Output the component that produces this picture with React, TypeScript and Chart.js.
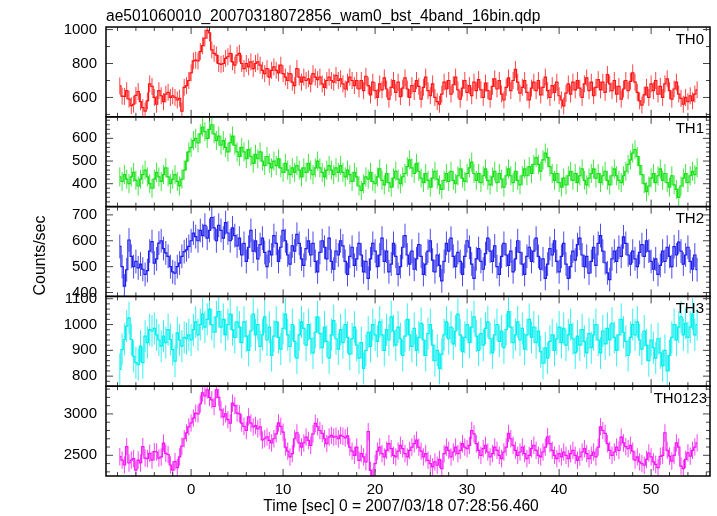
import React, { useEffect, useRef } from "react";
import { Chart, registerables } from "chart.js";

Chart.register(...registerables);
Chart.defaults.font.family = "'Liberation Sans', Arial, Helvetica, sans-serif";
Chart.defaults.color = "#000";

// ---------- text ----------
const TITLE = "ae501060010_20070318072856_wam0_bst_4band_16bin.qdp";
const X_LABEL = "Time [sec] 0 = 2007/03/18 07:28:56.460";
const Y_LABEL = "Counts/sec";
const PANEL_NAMES = ["TH0", "TH1", "TH2", "TH3", "TH0123"];

// ---------- time bins ----------
const T_START = -7.75; // centre of first bin [sec]
const BIN = 0.25; // bin width [sec]
const X_TICKS = [0, 10, 20, 30, 40, 50];

// ---------- tick labels ----------
const Y_TICKS_TH0 = [600, 800, 1000];
const Y_TICKS_TH1 = [400, 500, 600];
const Y_TICKS_TH2 = [400, 500, 600, 700];
const Y_TICKS_TH3 = [800, 900, 1000, 1100];
const Y_TICKS_TH0123 = [2500, 3000];

// ---------- typical 1-sigma error per band (counts/sec) ----------
const ERR_TH0 = 50;
const ERR_TH1 = 42;
const ERR_TH2 = 46;
const ERR_TH3 = 62;
const ERR_TH0123 = 105;

// ---------- light curves (counts/sec) ----------
const TH0 = [
  668, 608, 606, 640, 590, 552, 560, 612,
  635, 575, 540, 520, 580, 680, 665, 600,
  560, 640, 610, 575, 620, 630, 600, 610,
  600, 585, 595, 520, 660, 670, 700, 745,
  815, 820, 815, 870, 905, 950, 995, 980,
  880, 860, 850, 800, 795, 800, 830, 840,
  860, 810, 790, 850, 860, 800, 770, 800,
  780, 810, 770, 800, 810, 790, 760, 740,
  770, 720, 760, 780, 760, 745, 790, 740,
  720, 700, 740, 690, 670, 770, 720, 690,
  720, 700, 710, 680, 740, 720, 705, 720,
  680, 660, 700, 720, 700, 690, 730, 700,
  710, 680, 650, 690, 720, 700, 670, 700,
  650, 700, 640, 725, 670, 615, 690, 640,
  600, 680, 645, 715, 650, 590, 660, 700,
  630, 690, 605, 655, 715, 650, 600, 670,
  635, 700, 665, 590, 660, 720, 640, 610,
  680, 600, 575, 560, 620, 690, 650, 700,
  620, 675, 720, 645, 590, 655, 700, 630,
  670, 610, 690, 640, 705, 645, 600, 685,
  640, 590, 665, 710, 650, 700, 620, 585,
  660, 715, 640, 700, 765, 690, 625, 660,
  700, 630, 585, 655, 690, 640, 700, 615,
  660, 720, 640, 600, 670, 630, 690, 610,
  585, 550, 625, 680, 620, 690, 645, 700,
  655, 600, 680, 715, 640, 690, 610, 660,
  705, 645, 690, 630, 735, 680, 640, 700,
  620, 665, 590, 650, 700, 640, 695, 745,
  690, 630, 580, 555, 615, 660, 600, 680,
  640, 700, 620, 665, 600, 680, 710, 640,
  590, 650, 690, 620, 595, 560, 600, 575,
  610, 580, 620, 645,
];

const TH1 = [
  430, 410, 440, 420, 400, 430, 450, 415,
  390, 420, 440, 460, 430, 400, 380, 420,
  450, 430, 410, 440, 470, 430, 400, 420,
  440, 410, 390, 420, 460, 500, 540, 560,
  590, 600, 580, 620, 650, 630, 600, 640,
  660, 620, 590, 610, 570, 590, 560, 540,
  580, 610, 570, 540, 520, 560, 540, 510,
  550, 520, 490, 530, 510, 540, 500, 480,
  520, 490, 470, 500, 480, 510, 470, 450,
  490, 460, 440, 470, 450, 480, 460, 430,
  470, 450, 490, 460, 440, 470, 500, 470,
  450, 430, 460, 480, 460, 440, 470, 450,
  480, 450, 430, 460, 440, 410, 450, 430,
  390, 370, 400, 430, 420, 450, 410, 400,
  430, 465, 415, 395, 445, 405, 385, 425,
  455, 420, 400, 430, 445, 475, 505, 470,
  445, 490, 455, 425, 405, 445, 415, 385,
  425, 455, 420, 395, 375, 415, 445, 410,
  455, 415, 400, 435, 465, 425, 410, 445,
  470, 495, 445, 415, 445, 405, 435, 465,
  415, 395, 430, 455, 405, 445, 420, 385,
  435, 465, 435, 405, 455, 415, 395, 435,
  465, 435, 475, 445, 485, 515, 485, 455,
  505, 535, 515, 475, 445, 415, 445, 405,
  385, 425, 395, 435, 455, 415, 445, 405,
  435, 465, 415, 395, 425, 445, 465, 425,
  445, 405, 435, 455, 415, 395, 435, 465,
  435, 415, 405, 435, 455, 485, 505, 535,
  550, 520, 480, 440, 400, 365, 390, 425,
  445, 405, 435, 465, 415, 445, 405, 385,
  435, 395, 375, 340, 390, 425, 445, 405,
  435, 455, 440, 470,
];

const TH2 = [
  578, 500, 425, 488, 603, 540, 500, 520,
  495, 510, 490, 470, 485, 560, 597, 514,
  530, 591, 600, 570, 553, 540, 500, 480,
  475, 500, 514, 540, 558, 565, 578, 600,
  630, 616, 600, 640, 620, 660, 610, 640,
  690, 650, 600, 660, 640, 610, 670, 630,
  600, 650, 620, 580, 610, 545, 590, 520,
  575, 640, 560, 600, 530, 585, 610, 555,
  500, 560, 545, 620, 590, 520, 575, 640,
  600, 545, 510, 580, 560, 625, 590, 530,
  505, 570, 600, 545, 590, 520, 480, 555,
  600, 575, 530, 610, 520, 490, 560, 545,
  600, 580, 520, 470, 540, 575, 505, 530,
  590, 545, 480, 520, 455, 530, 590, 560,
  500, 545, 610, 520, 560, 480, 510, 590,
  540, 470, 500, 575, 620, 545, 510, 560,
  490, 530, 585, 540, 470, 510, 560, 600,
  525, 480, 545, 505, 445, 520, 590, 560,
  610, 540, 500, 555, 520, 470, 540, 600,
  575, 510, 455, 530, 570, 520, 490, 550,
  610, 560, 520, 580, 500, 470, 540, 590,
  545, 505, 560, 480, 530, 600, 555, 510,
  470, 540, 575, 520, 560, 610, 540, 490,
  530, 455, 510, 570, 545, 600, 520, 480,
  540, 590, 510, 455, 500, 560, 525, 585,
  610, 545, 500, 540, 475, 520, 575, 505,
  590, 620, 560, 515, 476, 450, 530, 560,
  520, 575, 540, 615, 590, 545, 510, 560,
  530, 500, 555, 585, 540, 600, 560, 520,
  490, 530, 470, 505, 560, 520, 575, 540,
  500, 577, 545, 595, 560, 510, 545, 575,
  520, 490, 545, 488,
];

const TH3 = [
  826, 903, 942, 994, 1026, 942, 877, 852,
  845, 916, 852, 955, 930, 980, 975, 985,
  960, 940, 916, 955, 930, 980, 942, 903,
  858, 968, 940, 916, 950, 945, 960, 940,
  980, 1010, 960, 1000, 1040, 990, 1020, 1060,
  1000, 970, 1030, 1050, 990, 1020, 960, 1000,
  1040, 980, 950, 1010, 990, 930, 1010, 955,
  900, 975, 1040, 960, 1000, 915, 960, 1030,
  940, 990, 880, 955, 1010, 950, 905, 985,
  1040, 960, 915, 1000, 935, 870, 960, 1010,
  985, 920, 1000, 945, 890, 970, 1030, 965,
  910, 990, 935, 870, 960, 1015, 945, 905,
  980, 930, 1000, 950, 885, 945, 990, 920,
  870, 930, 830, 900, 970, 915, 1000, 960,
  935, 1010, 960, 900, 980, 940, 1030, 975,
  920, 990, 945, 880, 955, 1020, 960, 915,
  985, 900, 950, 1005, 940, 880, 965, 1000,
  920, 860, 900, 830, 885, 960, 1010, 945,
  990, 925, 975, 1040, 960, 895, 950, 1000,
  930, 990, 1030, 955, 900, 965, 920, 985,
  1010, 945, 890, 960, 1000, 935, 975, 910,
  980, 1050, 990, 930, 960, 1010, 940, 985,
  905, 960, 1020, 950, 990, 930, 975, 895,
  850, 910, 870, 935, 960, 900, 945, 990,
  930, 985, 920, 960, 1000, 945, 890, 955,
  920, 980, 935, 890, 965, 910, 960, 1000,
  940, 890, 975, 925, 985, 940, 1005, 950,
  900, 960, 1020, 970, 935, 880, 950, 1000,
  960, 1010, 940, 905, 975, 920, 860, 940,
  910, 870, 945, 890, 840, 900, 820, 880,
  950, 1000, 940, 990, 1030, 960, 1005, 950,
  990, 1040, 960, 1000,
];

const TH0123 = [
  2483, 2443, 2383, 2605, 2407, 2443, 2460, 2322,
  2443, 2407, 2605, 2467, 2460, 2524, 2443, 2544,
  2540, 2467, 2480, 2649, 2524, 2510, 2383, 2322,
  2423, 2350, 2480, 2610, 2700, 2770, 2843, 2891,
  2950, 3010, 3000, 3120, 3254, 3218, 3290, 3200,
  3170, 3090, 3290, 3200, 3050, 2965, 3000, 2930,
  2890, 3130, 3100, 3010, 3000, 2890, 2850, 2800,
  2965, 2890, 2843, 2860, 2820, 2843, 2685, 2700,
  2722, 2680, 2649, 2700, 2760, 2891, 2850, 2780,
  2600, 2550, 2480, 2520, 2700, 2770, 2650, 2600,
  2650, 2720, 2680, 2620, 2760, 2886, 2845, 2800,
  2764, 2700, 2642, 2720, 2740, 2720, 2730, 2700,
  2740, 2730, 2710, 2735, 2600, 2550, 2500, 2600,
  2440, 2520, 2480, 2420, 2785, 2317, 2236, 2400,
  2550, 2600, 2520, 2480, 2560, 2640, 2580, 2500,
  2480, 2550, 2620, 2580, 2520, 2480, 2560, 2600,
  2640, 2683, 2600, 2550, 2480, 2520, 2440, 2400,
  2360, 2420, 2380, 2450, 2340, 2520, 2600, 2560,
  2480, 2540, 2600, 2520, 2560, 2640, 2600, 2580,
  2620, 2800, 2760, 2640, 2560, 2500, 2580, 2620,
  2540, 2480, 2520, 2600, 2560, 2500, 2460, 2540,
  2600, 2764, 2700, 2620, 2560, 2500, 2540, 2600,
  2520, 2460, 2500, 2580, 2620, 2560, 2500, 2480,
  2540, 2600, 2724, 2640, 2560, 2500, 2460, 2520,
  2480, 2540, 2500, 2460, 2520, 2560, 2500, 2440,
  2480, 2540, 2580, 2520, 2460, 2500, 2540, 2480,
  2600, 2845, 2800, 2764, 2640, 2560, 2500, 2540,
  2600, 2560, 2720, 2650, 2604, 2580, 2620, 2550,
  2443, 2480, 2420, 2400, 2380, 2450, 2528, 2480,
  2420, 2390, 2350, 2487, 2500, 2770, 2560, 2490,
  2430, 2500, 2650, 2600, 2370, 2340, 2450, 2530,
  2490, 2560, 2600, 2650,
];

// ---------- panel table (built from the arrays above) ----------
const PANELS = [
  { id: "y0", name: PANEL_NAMES[0], values: TH0, err: ERR_TH0, ticks: Y_TICKS_TH0, min: 486, max: 1015, minor: 100, color: "rgb(255,20,20)" },
  { id: "y1", name: PANEL_NAMES[1], values: TH1, err: ERR_TH1, ticks: Y_TICKS_TH1, min: 299, max: 695, minor: 20, color: "rgb(20,225,20)" },
  { id: "y2", name: PANEL_NAMES[2], values: TH2, err: ERR_TH2, ticks: Y_TICKS_TH2, min: 385, max: 732, minor: 20, color: "rgb(30,30,235)" },
  { id: "y3", name: PANEL_NAMES[3], values: TH3, err: ERR_TH3, ticks: Y_TICKS_TH3, min: 761, max: 1109, minor: 20, color: "rgb(0,238,238)" },
  { id: "y4", name: PANEL_NAMES[4], values: TH0123, err: ERR_TH0123, ticks: Y_TICKS_TH0123, min: 2250, max: 3335, minor: 100, color: "rgb(245,20,245)" },
];

const X_MIN = -9.25;
const X_MAX = 56.4;
const X_MINOR = 2;
const FONT_SIZE = 15;
const LABEL_FONT_SIZE = 15.6;
const FONT_FAMILY = "'Liberation Sans', Arial, sans-serif";
const AXIS_WIDTH = 106;
const XAXIS_HEIGHT = 40;

const qdpPlugin = {
  id: "qdpPanels",
  beforeDatasetDraw(chart: any, args: any) {
    const ds = chart.data.datasets[args.index];
    const ys = chart.scales[ds.yAxisID];
    const xs = chart.scales.x;
    const { ctx, chartArea } = chart;
    ctx.save();
    ctx.beginPath();
    ctx.rect(chartArea.left, ys.top, chartArea.right - chartArea.left, ys.bottom - ys.top);
    ctx.clip();
    ctx.strokeStyle = ds.borderColor;
    ctx.globalAlpha = 0.8;
    ctx.lineWidth = 1;
    ctx.beginPath();
    for (const p of ds.data) {
      const x = xs.getPixelForValue(p.x);
      ctx.moveTo(x, ys.getPixelForValue(p.y + ds.errorBar));
      ctx.lineTo(x, ys.getPixelForValue(p.y - ds.errorBar));
    }
    ctx.stroke();
    ctx.globalAlpha = 1;
  },
  afterDatasetDraw(chart: any) {
    chart.ctx.restore();
  },
  afterDraw(chart: any) {
    const { ctx, chartArea } = chart;
    const xs = chart.scales.x;
    const L = chartArea.left;
    const R = chartArea.right;
    for (const panel of PANELS) {
      const ys = chart.scales[panel.id];
      const T = ys.top;
      const B = ys.bottom;
      ctx.save();
      ctx.strokeStyle = "#444";
      ctx.lineWidth = 1;
      ctx.beginPath();
      for (let v = Math.ceil(ys.min / panel.minor) * panel.minor; v <= ys.max; v += panel.minor) {
        const y = ys.getPixelForValue(v);
        const len = panel.ticks.includes(v) ? 7 : 4;
        ctx.moveTo(L, y);
        ctx.lineTo(L + len, y);
        ctx.moveTo(R, y);
        ctx.lineTo(R - len, y);
      }
      for (let v = Math.ceil(xs.min / X_MINOR) * X_MINOR; v <= xs.max; v += X_MINOR) {
        const x = xs.getPixelForValue(v);
        const len = X_TICKS.includes(v) ? 7 : 4;
        ctx.moveTo(x, T);
        ctx.lineTo(x, T + len);
        ctx.moveTo(x, B);
        ctx.lineTo(x, B - len);
      }
      ctx.stroke();
      ctx.strokeStyle = "#000";
      ctx.lineWidth = 1.5;
      ctx.strokeRect(L, T, R - L, B - T);
      ctx.fillStyle = "#000";
      ctx.font = `${FONT_SIZE}px ${FONT_FAMILY}`;
      ctx.textAlign = "right";
      ctx.textBaseline = "alphabetic";
      ctx.fillText(panel.name, R - (panel.name.length > 3 ? 3 : 6), T + 16.5);
      ctx.restore();
    }
    // axis labels
    ctx.save();
    ctx.fillStyle = "#000";
    ctx.font = `${LABEL_FONT_SIZE}px ${FONT_FAMILY}`;
    ctx.textAlign = "center";
    ctx.textBaseline = "middle";
    ctx.fillText(X_LABEL, (L + R) / 2 - 7, xs.bottom - 9);
    ctx.translate(41, (chartArea.top + chartArea.bottom) / 2 + 4);
    ctx.rotate(-Math.PI / 2);
    ctx.font = `16px ${FONT_FAMILY}`;
    ctx.fillText(Y_LABEL, 0, 0);
    ctx.restore();
  },
};

function buildConfig(): any {
  const scales: any = {
    x: {
      type: "linear",
      position: "bottom",
      min: X_MIN,
      max: X_MAX,
      grid: { display: false, drawTicks: false },
      border: { display: false },
      ticks: {
        color: "#000",
        font: { size: FONT_SIZE },
        padding: 5,
        maxRotation: 0,
        autoSkip: false,
        callback: (v: any) => String(v),
      },
      afterBuildTicks: (s: any) => {
        s.ticks = X_TICKS.map((v) => ({ value: v }));
      },
      afterFit: (s: any) => {
        s.height = XAXIS_HEIGHT;
      },
      title: { display: false },
    },
  };
  PANELS.forEach((p, i) => {
    scales[p.id] = {
      type: "linear",
      position: "left",
      stack: "panels",
      stackWeight: 1,
      weight: PANELS.length - i,
      min: p.min,
      max: p.max,
      grid: { display: false, drawTicks: false },
      border: { display: false },
      ticks: {
        color: "#000",
        font: { size: FONT_SIZE },
        padding: 9,
        autoSkip: false,
        callback: (v: any) => String(v),
      },
      afterBuildTicks: (s: any) => {
        s.ticks = p.ticks.map((v) => ({ value: v }));
      },
      afterFit: (s: any) => {
        s.width = AXIS_WIDTH;
      },
      title: { display: false },
    };
  });

  const datasets = PANELS.map((p) => ({
    label: p.name,
    yAxisID: p.id,
    xAxisID: "x",
    data: p.values.map((y, i) => ({ x: T_START + i * BIN, y })),
    borderColor: p.color,
    backgroundColor: p.color,
    borderWidth: 1.2,
    pointRadius: 0,
    stepped: "middle",
    fill: false,
    errorBar: p.err,
  }));

  return {
    type: "line",
    data: { datasets },
    options: {
      animation: false,
      responsive: false,
      events: [],
      layout: { padding: { left: 0, right: 7, top: 0, bottom: 0 } },
      scales,
      plugins: {
        legend: { display: false },
        tooltip: { enabled: false },
        title: {
          display: true,
          text: TITLE,
          align: "start",
          fullSize: false,
          color: "#000",
          font: { size: LABEL_FONT_SIZE, weight: "normal" },
          padding: { top: 7, bottom: 1.3 },
        },
      },
    },
    plugins: [qdpPlugin],
  };
}

export default function App() {
  const ref = useRef<HTMLCanvasElement | null>(null);
  useEffect(() => {
    if (!ref.current) return;
    const chart = new Chart(ref.current, buildConfig());
    return () => chart.destroy();
  }, []);
  return (
    <div style={{ position: "fixed", left: 0, top: 0, width: 717, height: 516, background: "#fff" }}>
      <canvas ref={ref} width={717} height={516} style={{ display: "block" }} />
    </div>
  );
}
